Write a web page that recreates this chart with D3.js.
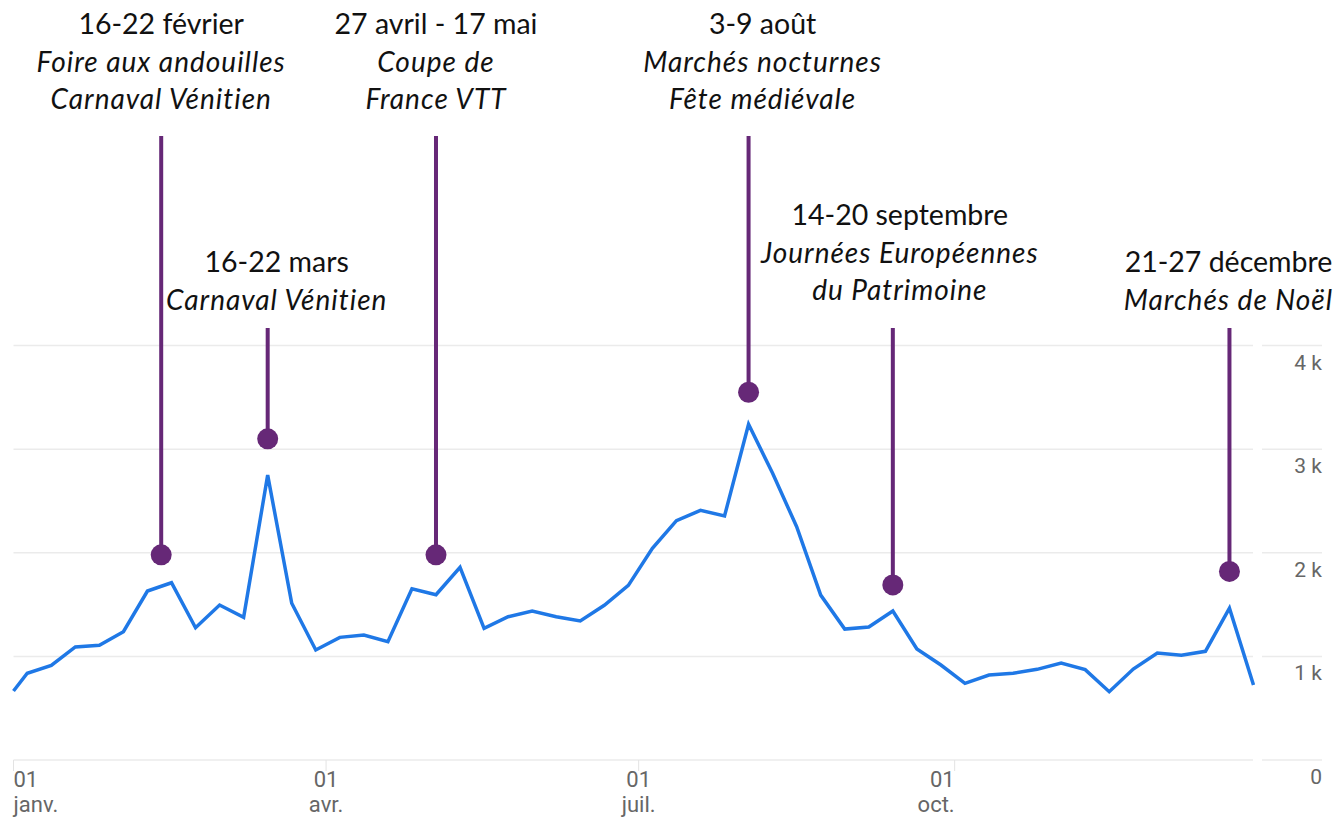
<!DOCTYPE html>
<html>
<head>
<meta charset="utf-8">
<script src="https://cdn.jsdelivr.net/npm/d3@7"></script>
<style>
  body { margin: 0; background: #fff; }
  svg { display: block; }
</style>
</head>
<body>
<div id="root"></div>
<script>
// weekly visitors (first point = 1 Jan, then Sundays)
const weeks = [
  '2020-01-01', '2020-01-05', '2020-01-12', '2020-01-19', '2020-01-26',
  '2020-02-02', '2020-02-09', '2020-02-16', '2020-02-23',
  '2020-03-01', '2020-03-08', '2020-03-15', '2020-03-22', '2020-03-29',
  '2020-04-05', '2020-04-12', '2020-04-19', '2020-04-26',
  '2020-05-03', '2020-05-10', '2020-05-17', '2020-05-24', '2020-05-31',
  '2020-06-07', '2020-06-14', '2020-06-21', '2020-06-28',
  '2020-07-05', '2020-07-12', '2020-07-19', '2020-07-26',
  '2020-08-02', '2020-08-09', '2020-08-16', '2020-08-23', '2020-08-30',
  '2020-09-06', '2020-09-13', '2020-09-20', '2020-09-27',
  '2020-10-04', '2020-10-11', '2020-10-18', '2020-10-25',
  '2020-11-01', '2020-11-08', '2020-11-15', '2020-11-22', '2020-11-29',
  '2020-12-06', '2020-12-13', '2020-12-20', '2020-12-27'
];
const visitors = [
  666, 837, 914, 1091, 1107,
  1238, 1631, 1711, 1277,
  1496, 1377, 2750, 1513, 1062,
  1184, 1207, 1142, 1653,
  1595, 1860, 1271, 1383, 1438,
  1383, 1342, 1493, 1686,
  2043, 2310, 2410, 2355,
  3240, 2767, 2252, 1592, 1264,
  1284, 1438, 1071, 917,
  740, 820, 837, 875,
  936, 872, 659, 878, 1033,
  1011, 1049, 1465, 724
];

// axes
const yTicks = [0, 1000, 2000, 3000, 4000];
const yTickLabels = ['0', '1 k', '2 k', '3 k', '4 k'];
const xTicks = ['2020-01-01', '2020-04-01', '2020-07-01', '2020-10-01'];
const xTickDays = ['01', '01', '01', '01'];
const xTickMonths = ['janv.', 'avr.', 'juil.', 'oct.'];

// events
const eventDates = ['2020-02-13', '2020-03-15', '2020-05-03', '2020-08-02', '2020-09-13', '2020-12-20'];
const eventValues = [1980, 3100, 1980, 3550, 1690, 1820];
const eventTitles = ['16-22 février', '16-22 mars', '27 avril - 17 mai', '3-9 août', '14-20 septembre', '21-27 décembre'];
const eventNames = [
  ['Foire aux andouilles', 'Carnaval Vénitien'],
  ['Carnaval Vénitien'],
  ['Coupe de', 'France VTT'],
  ['Marchés nocturnes', 'Fête médiévale'],
  ['Journées Européennes', 'du Patrimoine'],
  ['Marchés de Noël']
];

// layout only
const labelDx = [0, 9, 0, 14, 7, -1];
const labelTop = [34, 272, 34, 34, 225, 272]; // first baseline of each label block
const pinTop = [136, 328, 136, 136, 328, 328]; // where each stem starts
const lineGap = 37.5;

const w = 1341, h = 819;
const parse = d3.timeParse('%Y-%m-%d');

const svg = d3.select('#root').append('svg')
  .attr('width', w)
  .attr('height', h);

const x = d3.scaleTime()
  .domain([parse('2020-01-01'), parse('2020-12-27')])
  .range([13.5, 1253.5]);

const y = d3.scaleLinear()
  .domain([0, 4000])
  .range([760, 345.6]);

// gridlines
svg.append('g').selectAll('line')
  .data(yTicks)
  .join('line')
  .attr('x1', 13.5).attr('x2', 1253)
  .attr('y1', d => y(d)).attr('y2', d => y(d))
  .attr('stroke', '#ebebeb')
  .attr('stroke-width', 1.5);

// right axis
const yAxis = svg.append('g');
yAxis.selectAll('line')
  .data(yTicks)
  .join('line')
  .attr('x1', 1262).attr('x2', 1322)
  .attr('y1', d => y(d)).attr('y2', d => y(d))
  .attr('stroke', '#ebebeb')
  .attr('stroke-width', 1.5);
yAxis.selectAll('text')
  .data(yTicks)
  .join('text')
  .attr('x', 1322)
  .attr('y', d => y(d) + 24)
  .attr('text-anchor', 'end')
  .attr('font-family', 'Roboto, sans-serif')
  .attr('font-size', 21)
  .attr('fill', '#666')
  .text((d, i) => yTickLabels[i]);

// x axis ticks
const xAxis = svg.append('g');
const anchors = ['start', 'middle', 'middle', 'end'];
xTicks.forEach((t, i) => {
  const tx = x(parse(t));
  xAxis.append('line')
    .attr('x1', tx).attr('x2', tx)
    .attr('y1', 760).attr('y2', 771)
    .attr('stroke', '#e3e3e3')
    .attr('stroke-width', 1);
  const lbl = xAxis.append('text')
    .attr('font-family', 'Roboto, sans-serif')
    .attr('font-size', 22)
    .attr('fill', '#666')
    .attr('text-anchor', anchors[i]);
  lbl.append('tspan').attr('x', tx).attr('y', 787).text(xTickDays[i]);
  lbl.append('tspan').attr('x', tx).attr('y', 812).text(xTickMonths[i]);
});

// the line
const line = d3.line()
  .x((d, i) => x(parse(weeks[i])))
  .y(d => y(d));

svg.append('path')
  .datum(visitors)
  .attr('d', line)
  .attr('fill', 'none')
  .attr('stroke', '#1f78e6')
  .attr('stroke-width', 3.5);

// event pins + labels
const purple = '#662877';
eventDates.forEach((dt, i) => {
  const px = x(parse(dt));
  const g = svg.append('g');
  g.append('line')
    .attr('x1', px).attr('x2', px)
    .attr('y1', pinTop[i])
    .attr('y2', y(eventValues[i]))
    .attr('stroke', purple)
    .attr('stroke-width', 4);
  g.append('circle')
    .attr('cx', px)
    .attr('cy', y(eventValues[i]))
    .attr('r', 10.5)
    .attr('fill', purple);

  const lx = px + labelDx[i];
  const txt = g.append('text')
    .attr('text-anchor', 'middle')
    .attr('font-family', 'Lato, sans-serif')
    .attr('font-weight', 400)
    .attr('font-size', 28.5)
    .attr('fill', '#111');
  txt.append('tspan')
    .attr('x', lx)
    .attr('y', labelTop[i])
    .text(eventTitles[i]);
  eventNames[i].forEach((n, j) => {
    txt.append('tspan')
      .attr('x', lx)
      .attr('y', labelTop[i] + lineGap * (j + 1))
      .attr('font-style', 'italic')
      .attr('font-size', 28)
      .attr('letter-spacing', 1)
      .text(n);
  });
});
</script>
</body>
</html>
